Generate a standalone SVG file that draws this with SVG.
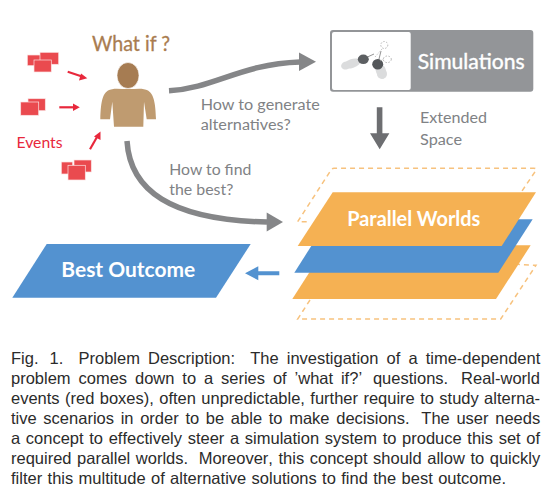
<svg xmlns="http://www.w3.org/2000/svg" width="551" height="498" viewBox="0 0 551 498">
<style>
.lbl{font-family:Lato,"Open Sans",sans-serif;font-size:15.5px;fill:#808285}
.wht{font-family:Lato,"Open Sans",sans-serif;font-weight:700;fill:#fff}
.cap{font-family:"Liberation Sans",Arial,sans-serif;font-size:16.5px;fill:#2b2b2b;font-kerning:none}
.rb{fill:#ea4a4f;stroke:#fbe3e3;stroke-width:.7}
.gl{fill:none;stroke:#858688;stroke-width:5.5}
.rl{stroke:#e8283c;stroke-width:2.200;fill:none}
.rh{fill:#e8283c}
.dash{fill:none;stroke:#f7c27e;stroke-width:1.500;stroke-dasharray:5 4}
</style>
<rect width="551" height="498" fill="#fff"/>
<g id="connectors">
<path class="gl" d="M169,90.7C215,88 240,64 300,62"/>
<path d="M299,52.500L316,61.700L299,71z" fill="#858688"/>
<path class="gl" d="M127,141C130,190 170,220 267,222"/>
<path d="M266.700,212.500L283,222L266.700,231.500z" fill="#858688"/>
<path d="M376.800,107.300h5.600v26h7L379.700,149.300L370,133.300h6.800z" fill="#6d6e71"/>
<path d="M279.300,271.300v4H258.300v5L245,273.300L258.300,266.300v5z" fill="#5392d0"/>
<path class="rl" d="M67.700,71.700L82,76.500"/><path class="rh" d="M87.300,78.300L79,80.500L81,73.500z"/>
<path class="rl" d="M59.300,107.300H74"/><path class="rh" d="M79.800,107.300L73,103.500V111z"/>
<path class="rl" d="M90,149.300L97,137"/><path class="rh" d="M100.500,131.500L100.500,140L94,136.500z"/>
</g>
<g id="what-if"><text x="92" y="51" font-family="Lato,Open Sans,sans-serif" font-size="21" fill="#a97c50" stroke="#a97c50" stroke-width=".3" textLength="78" lengthAdjust="spacingAndGlyphs">What if ?</text></g>
<g id="person">
<path d="M128,89C120,89 113,87.500 108,90.500C103,94 100.800,100 100.300,119.300H110L112.300,101.700L114,126.700H143.300L144,101.700L146.700,119.300H156C155.500,100 153,94 148,90.500C143,87.500 136,89 128,89z" fill="#bf9b70"/>
<ellipse cx="128" cy="75.500" rx="11" ry="13" fill="#a67c52" stroke="#fff" stroke-width=".6"/>
</g>
<g id="events">
<rect class="rb" x="27.300" y="55" width="13" height="10.700"/><rect class="rb" x="40" y="52.300" width="18.700" height="12"/><rect class="rb" x="34" y="60" width="17.300" height="12"/>
<rect class="rb" x="28" y="98.700" width="17.300" height="12"/><rect class="rb" x="20.700" y="102" width="18" height="13.300"/>
<rect class="rb" x="74" y="160" width="17.300" height="12"/><rect class="rb" x="61.300" y="162" width="11.400" height="12"/><rect class="rb" x="68" y="165.300" width="17.300" height="14.700"/>
<text x="16.500" y="148" font-family="Lato,Open Sans,sans-serif" font-size="15.500" fill="#e8283c" textLength="46" lengthAdjust="spacingAndGlyphs">Events</text>
</g>
<g id="simulations">
<rect x="330" y="30" width="203.300" height="61.700" rx="3" fill="#939598"/>
<rect x="332" y="32" width="78.700" height="58" rx="2" fill="#fff"/>
<g fill="#a8aaac" opacity=".4"><ellipse cx="352" cy="63.500" rx="9" ry="4.500" transform="rotate(-18 352 63.500)"/><ellipse cx="346" cy="65.500" rx="5" ry="4" transform="rotate(-18 346 65.500)"/><ellipse cx="381" cy="71" rx="5" ry="8" transform="rotate(-20 381 71)"/><ellipse cx="382" cy="74" rx="5" ry="5"/></g>
<path d="M363,59L374,54M378,63L381,51" stroke="#777" stroke-width=".8" fill="none"/>
<ellipse cx="363.300" cy="59.300" rx="5.500" ry="4.800" fill="#5c5f62"/>
<ellipse cx="377.700" cy="64.300" rx="5.500" ry="5.300" fill="#54575a"/>
<path d="M375,57L382,49M380,61L385,58" stroke="#aaa" stroke-width=".7" stroke-dasharray="1.500 1.500" fill="none"/>
<circle cx="384.300" cy="45" r="3.500" fill="none" stroke="#999" stroke-width=".7" stroke-dasharray="1.500 1.500"/>
<ellipse cx="387.300" cy="59.300" rx="4" ry="3.300" fill="none" stroke="#999" stroke-width=".7" stroke-dasharray="1.500 1.500"/>
<text class="wht" x="417.700" y="69" font-size="22" style="font-weight:400" stroke="#fff" stroke-width=".4" textLength="107" lengthAdjust="spacingAndGlyphs">Simulations</text>
</g>
<g id="extended-space"><text class="lbl" x="420" y="123.300" textLength="67" lengthAdjust="spacingAndGlyphs">Extended</text><text class="lbl" x="420" y="145" textLength="42" lengthAdjust="spacingAndGlyphs">Space</text></g>
<g id="q1"><text class="lbl" x="200.700" y="110" textLength="119" lengthAdjust="spacingAndGlyphs">How to generate</text><text class="lbl" x="200.700" y="130" textLength="90" lengthAdjust="spacingAndGlyphs">alternatives?</text></g>
<g id="q2"><text class="lbl" x="169.300" y="174.700" textLength="82" lengthAdjust="spacingAndGlyphs">How to find</text><text class="lbl" x="169.300" y="194.700" textLength="64" lengthAdjust="spacingAndGlyphs">the best?</text></g>
<g id="parallel-worlds">
<path class="dash" d="M306.700,221.700H297.700L331,170Q332,168.300 334,168.300H534Q537,168.300 535.500,171L520,194"/>
<path class="dash" d="M310,300L297.700,319H500.700L536,265.300L518,264.300"/>
<path d="M326.700,245.300H530.700L496,299H292.300z" fill="#f5b153"/>
<path d="M328.300,219.300H532.700L498.300,272.700H294.300z" fill="#5392d0"/>
<path d="M332.700,192.300H536L501.700,246H297.700z" fill="#f5b153"/>
<text class="wht" x="347.300" y="226" font-size="21" textLength="133" lengthAdjust="spacingAndGlyphs">Parallel Worlds</text>
</g>
<g id="best-outcome">
<path d="M46.700,244H250.700L216,297.700H12.300z" fill="#5392d0"/>
<text class="wht" x="61.300" y="276.500" font-size="21" textLength="134" lengthAdjust="spacingAndGlyphs">Best Outcome</text>
</g>
<g id="caption">
<text class="cap" x="11" y="364" word-spacing="3.500">Fig. <tspan dx="3">1.</tspan> <tspan dx="7">Problem</tspan> Description: <tspan dx="7">The</tspan> investigation of a time-dependent</text>
<text class="cap" x="11" y="384" word-spacing="3.300">problem comes down to a series of ’what if?’ <tspan dx="3">questions.</tspan> <tspan dx="5">Real-world</tspan></text>
<text class="cap" x="11" y="404" word-spacing="0.800">events (red boxes), often unpredictable, further require to study alterna-</text>
<text class="cap" x="11" y="424" word-spacing="2.100">tive scenarios in order to be able to make decisions. <tspan dx="5">The</tspan> user needs</text>
<text class="cap" x="11" y="444" word-spacing="1.060">a concept to effectively steer a simulation system to produce this set of</text>
<text class="cap" x="11" y="464" word-spacing="0.970">required parallel worlds. <tspan dx="5">Moreover,</tspan> this concept should allow to quickly</text>
<text class="cap" x="11" y="484" word-spacing="0.800">filter this multitude of alternative solutions to find the best outcome.</text>
</g>
</svg>
